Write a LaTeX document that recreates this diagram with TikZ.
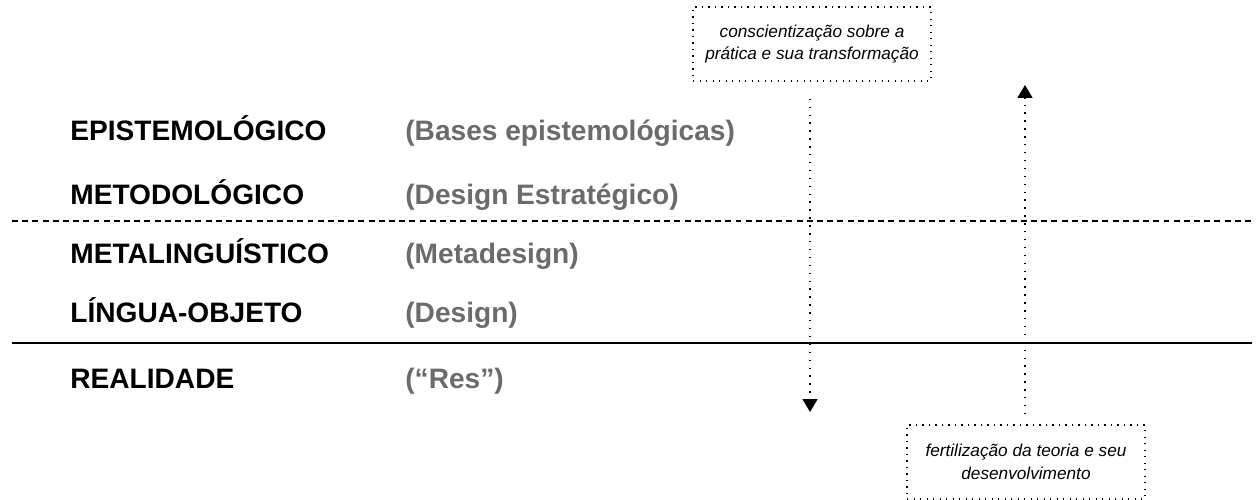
\documentclass[tikz,border=0pt]{standalone}
\usepackage{fontspec}
\setmainfont{Liberation Sans}
\usetikzlibrary{arrows.meta}
\definecolor{exgray}{HTML}{6B6B6B}
\tikzset{
  lvl/.style={anchor=base west, inner sep=0, font=\fontsize{16}{19}\selectfont\bfseries},
  ex/.style={lvl, text=exgray},
  notebox/.style={draw, line width=0.8pt, dash pattern=on 0.8pt off 2.9pt,
    minimum width=4.76cm, minimum height=1.48cm, align=center, inner sep=0,
    font=\fontsize{9.8}{13}\selectfont\itshape},
  flow/.style={line width=0.8pt, dash pattern=on 0.8pt off 3.7pt,
    -{Triangle[width=0.3cm, length=0.26cm]}}
}
\begin{document}
\begin{tikzpicture}[x=0.02cm, y=-0.02cm]
\useasboundingbox (0,0) rectangle (1258,500);
% levels
\foreach \y/\name/\what [count=\i] in {141/EPISTEMOLÓGICO/(Bases epistemológicas),
  204/METODOLÓGICO/(Design Estratégico), 263/METALINGUÍSTICO/(Metadesign),
  322/LÍNGUA-OBJETO/(Design), 388/REALIDADE/(“Res”)}{
\node[lvl] (lvl\i) at (70,\y) {\name};
\node[ex] (ex\i) at (405,\y) {\what};
}
\draw[line width=1.2pt, dash pattern=on 3.4pt off 2.4pt] (12,221)--(1252,221);
\draw[line width=1.7pt] (12,343)--(1252,343);

% notes
\node[notebox] (conc) at (812,44) {conscientização sobre a\\prática e sua transformação};
\node[notebox] (fert) at (1026,462) {fertilização da teoria e seu\\desenvolvimento};
\coordinate (down) at (810,412);
\coordinate (up) at (1025,85);
\draw[flow, shorten <=0.34cm] (conc.south -| down) -- (down);
\draw[flow, shorten <=0.2cm] (fert.north -| up) -- (up);
\end{tikzpicture}
\end{document}
